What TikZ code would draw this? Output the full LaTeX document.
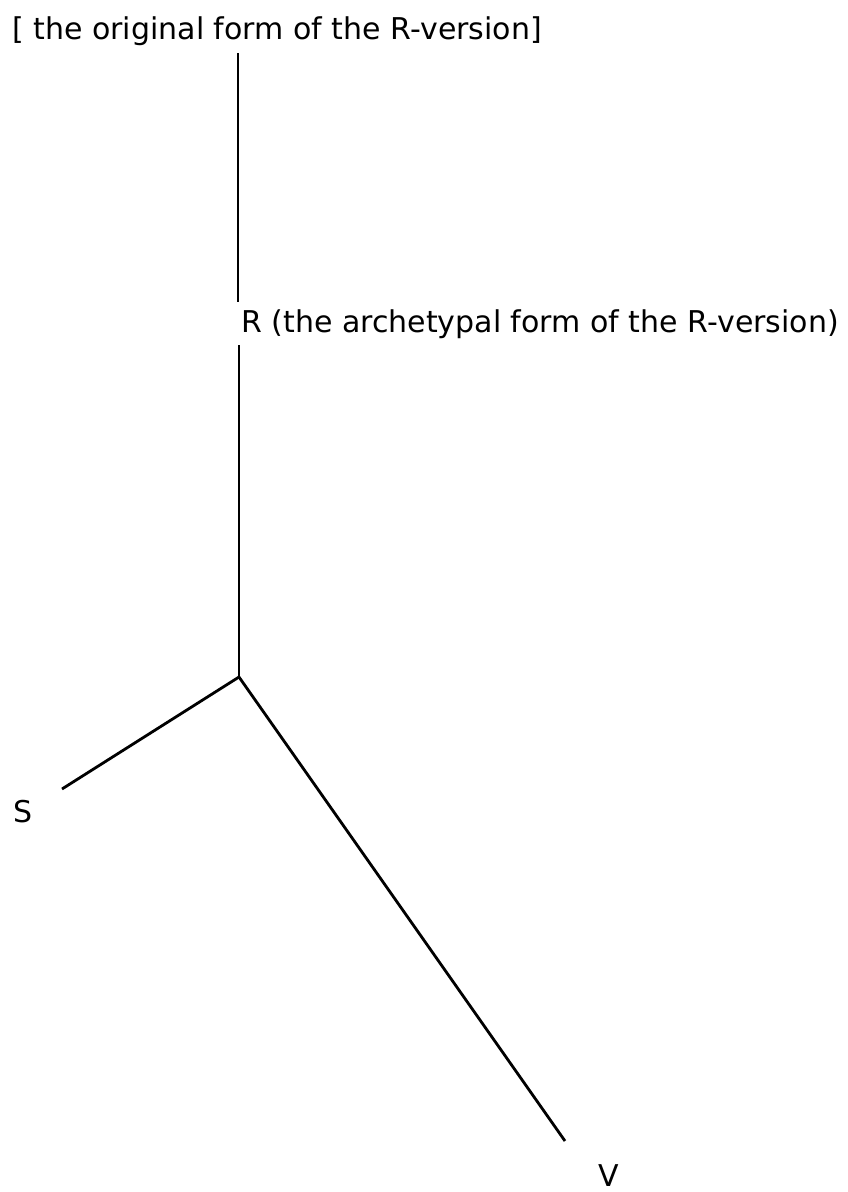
\documentclass[tikz,border=0pt]{standalone}
\usepackage{fontspec}
\setmainfont{DejaVu Sans}
\usetikzlibrary{positioning}
\tikzset{
  lbl/.style={font=\fontsize{30}{36}\selectfont, inner sep=0pt, anchor=base west},
  branch/.style={line width=2.8pt}
}

\begin{document}
\begin{tikzpicture}[x=1pt,y=-1pt]
\useasboundingbox (0,0) rectangle (847,1192);
% labels
\node[lbl] (orig) at (12,39) {[ the original form of the R-version]};
\node[lbl] (R) at (241,332) {R (the archetypal form of the R-version)};
\node[lbl] (S) at (13,822) {S};
\node[lbl] (V) at (598,1186) {V};
% branch points
\coordinate (origfoot) at (238,53);
\coordinate (Rtop) at (238,302);
\coordinate (Rfoot) at (239,345);
\coordinate (fork) at (239,677);
\coordinate (Send) at (62,789);
\coordinate (Vend) at (565,1141);
% stemma lines
\draw[branch] (origfoot) -- (Rtop);
\draw[branch] (Rfoot) -- (fork);
\draw[branch] (fork) -- (Send);
\draw[branch] (fork) -- (Vend);
\end{tikzpicture}
\end{document}
